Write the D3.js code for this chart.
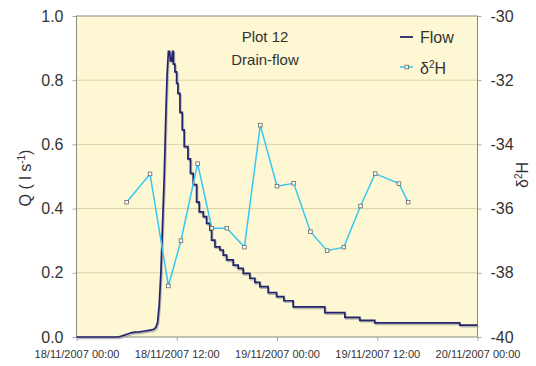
<!DOCTYPE html>
<html>
<head>
<meta charset="utf-8">
<script src="https://cdn.jsdelivr.net/npm/d3@7"></script>
<style>
html,body{margin:0;padding:0;background:#fff;}
svg text{font-family:"Liberation Sans",Arial,sans-serif;fill:#333;}
</style>
</head>
<body>
<svg id="chart" width="536" height="366"></svg>
<script>
// ---- data (hours after 18/11/2007 00:00) ----
// rising limb (continuous)
const riseHours = [0,5.0,5.5,6.0,6.5,7.0,7.5,8.0,8.5,9.0,9.3,9.5,9.7,9.9,10.1,10.3,10.5,10.7,10.85,11.0,11.15,11.25,11.4,11.5,11.6];
const riseValues = [0,0,0.004,0.008,0.013,0.015,0.016,0.018,0.020,0.022,0.025,0.030,0.045,0.10,0.20,0.35,0.50,0.70,0.82,0.89,0.89,0.86,0.86,0.89,0.89];
// recession (stepped record)
const recHours = [11.6,11.78,11.99,12.14,12.38,12.66,12.89,13.34,13.64,13.97,14.38,14.69,15.17,15.57,15.97,16.17,16.57,17.16,17.56,17.97,
  18.76,19.35,19.95,20.75,21.35,21.95,22.94,23.95,24.82,25.93,29.72,32.12,33.91,35.7,45.87,48];
const recValues = [0.85,0.826,0.79,0.759,0.70,0.645,0.593,0.555,0.51,0.475,0.42,0.39,0.375,0.354,0.333,0.302,0.281,0.271,0.255,0.24,
  0.224,0.214,0.198,0.183,0.170,0.157,0.138,0.126,0.113,0.094,0.076,0.061,0.052,0.044,0.037,0.037];
const isoHours = [6,8.8,11,12.5,14.5,16.2,18,20.1,22,24,26,28,30,32,34,35.75,38.6,39.7];
const isoValues = [-35.8,-34.92,-38.41,-37.0,-34.6,-36.61,-36.61,-37.2,-33.4,-35.3,-35.21,-36.72,-37.31,-37.2,-35.92,-34.91,-35.22,-35.8];
const qTicks = [0,0.2,0.4,0.6,0.8,1.0];
const dTicks = [-40,-38,-36,-34,-32,-30];
const xTickHours = [0,12,24,36,48];
const titleLines = ["Plot 12","Drain-flow"];
const seriesNames = ["Flow","δ2H"];

const t0 = Date.UTC(2007,10,18,0,0);
const toDate = h => new Date(t0 + h*3600*1000);
const rise = riseHours.map((h,i)=>({t:toDate(h), v:riseValues[i]}));
const rec = recHours.map((h,i)=>({t:toDate(h), v:recValues[i]}));
const iso = isoHours.map((h,i)=>({t:toDate(h), v:isoValues[i]}));

const L=76.5, R=477.5, T=16, B=337;
const svg = d3.select("#chart");
const x = d3.scaleUtc().domain([toDate(0),toDate(48)]).range([L,R]);
const yQ = d3.scaleLinear().domain([0,1]).range([B,T]);
const yD = d3.scaleLinear().domain([-40,-30]).range([B,T]);

// plot background
svg.append("rect").attr("x",L).attr("y",T).attr("width",R-L).attr("height",B-T).attr("fill","#fdf8d3");
// gridlines
svg.append("g").selectAll("line").data(qTicks.filter(d=>d>0&&d<1)).join("line")
  .attr("x1",L).attr("x2",R).attr("y1",d=>yQ(d)).attr("y2",d=>yQ(d))
  .attr("stroke","#d8d1aa").attr("stroke-width",1);

// axes
const fmt = d3.utcFormat("%d/%m/%Y %H:%M");
const xAxis = svg.append("g").attr("transform",`translate(0,${B})`)
  .call(d3.axisBottom(x).tickValues(xTickHours.map(toDate)).tickFormat(fmt).tickSize(4).tickPadding(9));
const yAxisL = svg.append("g").attr("transform",`translate(${L},0)`)
  .call(d3.axisLeft(yQ).tickValues(qTicks).tickFormat(d3.format(".1f")).tickSize(4).tickPadding(9));
const yAxisR = svg.append("g").attr("transform",`translate(${R},0)`)
  .call(d3.axisRight(yD).tickValues(dTicks).tickFormat(d=>d).tickSize(4).tickPadding(9));
[xAxis,yAxisL,yAxisR].forEach(g=>{
  g.select(".domain").remove();
  g.selectAll(".tick line").attr("stroke","#aaa");
  g.selectAll("text").attr("fill","#333").style("font-family","'Liberation Sans',Arial,sans-serif");
});
xAxis.selectAll("text").style("font-size","11px");
yAxisL.selectAll("text").style("font-size","16px");
yAxisR.selectAll("text").style("font-size","16px");

// plot border
svg.append("rect").attr("x",L).attr("y",T).attr("width",R-L).attr("height",B-T)
  .attr("fill","none").attr("stroke","#8a8a80").attr("stroke-width",1);

// flow line (with shadow): continuous rising limb + stepped recession
const riseLine = d3.line().x(d=>x(d.t)).y(d=>yQ(d.v));
const recLine = d3.line().x(d=>x(d.t)).y(d=>yQ(d.v)).curve(d3.curveStepAfter);
const flowPath = riseLine(rise) + recLine(rec).replace(/^M/,"L");
svg.append("path").attr("d",flowPath).attr("fill","none")
  .attr("stroke","#9a9a9a").attr("stroke-width",1.6).attr("transform","translate(1,1.5)").attr("opacity",0.7);
svg.append("path").attr("d",flowPath).attr("fill","none")
  .attr("stroke","#23236e").attr("stroke-width",1.7).attr("stroke-linejoin","miter");

// isotope line
const isoLine = d3.line().x(d=>x(d.t)).y(d=>yD(d.v));
svg.append("path").datum(iso).attr("d",isoLine).attr("fill","none")
  .attr("stroke","#38c6f4").attr("stroke-width",1.5);
svg.append("g").selectAll("rect").data(iso).join("rect")
  .attr("x",d=>x(d.t)-1.8).attr("y",d=>yD(d.v)-1.8).attr("width",3.6).attr("height",3.6)
  .attr("fill","#fff").attr("stroke","#666").attr("stroke-width",0.8);

// title
svg.append("text").attr("x",265).attr("y",42).attr("text-anchor","middle").style("font-size","15px").text(titleLines[0]);
svg.append("text").attr("x",265).attr("y",65).attr("text-anchor","middle").style("font-size","15px").text(titleLines[1]);

// legend
const lg = svg.append("g");
lg.append("line").attr("x1",400).attr("x2",413).attr("y1",37).attr("y2",37).attr("stroke","#23236e").attr("stroke-width",1.8);
lg.append("text").attr("x",420).attr("y",43).style("font-size","16px").text(seriesNames[0]);
lg.append("line").attr("x1",400).attr("x2",413).attr("y1",67).attr("y2",67).attr("stroke","#38c6f4").attr("stroke-width",1.5);
lg.append("rect").attr("x",405).attr("y",65.2).attr("width",3.6).attr("height",3.6).attr("fill","#fff").attr("stroke","#666").attr("stroke-width",0.8);
const lt = lg.append("text").attr("x",420).attr("y",74).style("font-size","16px");
lt.append("tspan").text("δ");
lt.append("tspan").attr("dy",-6).style("font-size","10px").text("2");
lt.append("tspan").attr("dy",6).text("H");

// axis titles
const yl = svg.append("text").attr("transform","translate(31,178) rotate(-90)").attr("text-anchor","middle").style("font-size","16px");
yl.append("tspan").text("Q ( l s");
yl.append("tspan").attr("dy",-6).style("font-size","10px").text("-1");
yl.append("tspan").attr("dy",6).text(")");
const yr = svg.append("text").attr("transform","translate(528,175) rotate(-90)").attr("text-anchor","middle").style("font-size","16px");
yr.append("tspan").text("δ");
yr.append("tspan").attr("dy",-6).style("font-size","10px").text("2");
yr.append("tspan").attr("dy",6).text("H");
</script>
</body>
</html>
